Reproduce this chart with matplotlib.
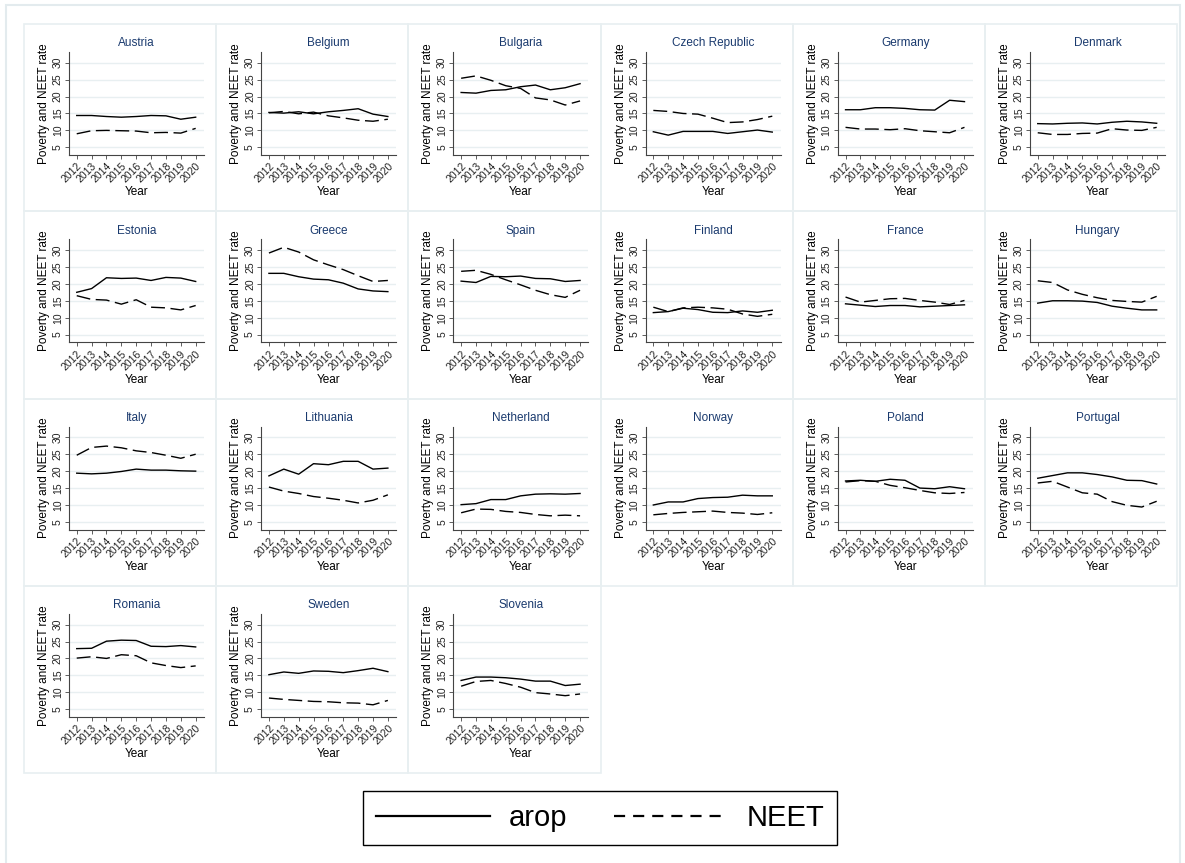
import numpy as np
import matplotlib.pyplot as plt
from matplotlib.patches import Rectangle
from matplotlib.lines import Line2D

plt.rcParams['font.family'] = ['Liberation Sans', 'DejaVu Sans']

years = [2012, 2013, 2014, 2015, 2016, 2017, 2018, 2019, 2020]

countries = ['Austria', 'Belgium', 'Bulgaria', 'Czech Republic', 'Germany', 'Denmark',
             'Estonia', 'Greece', 'Spain', 'Finland', 'France', 'Hungary',
             'Italy', 'Lithuania', 'Netherland', 'Norway', 'Poland', 'Portugal',
             'Romania', 'Sweden', 'Slovenia']

# at-risk-of-poverty rate
arop = [
    [14.4, 14.4, 14.1, 13.9, 14.1, 14.4, 14.3, 13.3, 13.9],
    [15.3, 15.1, 15.5, 14.9, 15.5, 15.9, 16.4, 14.8, 14.1],
    [21.2, 21.0, 21.8, 22.0, 22.9, 23.4, 22.0, 22.6, 23.8],
    [9.6, 8.6, 9.7, 9.7, 9.7, 9.1, 9.6, 10.1, 9.5],
    [16.1, 16.1, 16.7, 16.7, 16.5, 16.1, 16.0, 18.9, 18.5],
    [12.0, 11.9, 12.1, 12.2, 11.9, 12.4, 12.7, 12.5, 12.1],
    [17.5, 18.6, 21.8, 21.6, 21.7, 21.0, 21.9, 21.7, 20.7],
    [23.1, 23.1, 22.1, 21.4, 21.2, 20.2, 18.5, 17.9, 17.7],
    [20.8, 20.4, 22.2, 22.1, 22.3, 21.6, 21.5, 20.7, 21.0],
    [11.5, 11.8, 12.8, 12.4, 11.6, 11.5, 12.0, 11.6, 12.2],
    [14.1, 13.7, 13.3, 13.6, 13.6, 13.2, 13.4, 13.6, 13.8],
    [14.3, 15.0, 15.0, 14.9, 14.5, 13.4, 12.8, 12.3, 12.3],
    [19.4, 19.2, 19.4, 19.9, 20.6, 20.3, 20.3, 20.1, 20.0],
    [18.6, 20.6, 19.1, 22.2, 21.9, 22.9, 22.9, 20.6, 20.9],
    [10.1, 10.4, 11.6, 11.6, 12.7, 13.2, 13.3, 13.2, 13.4],
    [10.0, 10.9, 10.9, 11.9, 12.2, 12.3, 12.9, 12.7, 12.7],
    [17.1, 17.3, 17.0, 17.6, 17.3, 15.0, 14.8, 15.4, 14.8],
    [17.9, 18.7, 19.5, 19.5, 19.0, 18.3, 17.3, 17.2, 16.2],
    [22.9, 23.0, 25.1, 25.4, 25.3, 23.6, 23.5, 23.8, 23.4],
    [15.2, 16.0, 15.6, 16.3, 16.2, 15.8, 16.4, 17.1, 16.1],
    [13.5, 14.5, 14.5, 14.3, 13.9, 13.3, 13.3, 12.0, 12.4],
]

# NEET rate
neet = [
    [9.0, 9.9, 10.0, 9.9, 9.8, 9.3, 9.4, 9.2, 10.6],
    [15.2, 15.6, 14.9, 15.4, 14.3, 13.7, 13.0, 12.7, 13.3],
    [25.4, 26.1, 24.8, 23.2, 22.4, 19.6, 19.0, 17.5, 18.7],
    [15.9, 15.6, 15.0, 14.8, 13.6, 12.3, 12.5, 13.2, 14.2],
    [10.9, 10.4, 10.4, 10.2, 10.5, 9.9, 9.6, 9.3, 10.9],
    [9.3, 8.8, 8.8, 9.1, 9.2, 10.5, 10.1, 10.0, 10.9],
    [16.5, 15.4, 15.2, 14.0, 15.3, 13.1, 12.9, 12.3, 13.6],
    [29.1, 30.8, 29.4, 27.1, 25.6, 24.2, 22.4, 20.7, 21.0],
    [23.7, 24.0, 22.8, 21.2, 19.7, 18.1, 16.8, 16.0, 18.1],
    [13.1, 11.8, 12.9, 13.1, 12.9, 12.5, 11.1, 10.4, 11.0],
    [16.1, 14.6, 15.1, 15.6, 15.7, 15.1, 14.6, 13.9, 15.1],
    [20.9, 20.4, 18.2, 16.9, 15.9, 15.1, 14.8, 14.6, 16.3],
    [24.7, 27.0, 27.4, 26.9, 26.0, 25.5, 24.7, 23.8, 25.0],
    [15.3, 14.1, 13.4, 12.5, 12.0, 11.4, 10.6, 11.4, 13.0],
    [7.7, 8.8, 8.7, 8.1, 7.8, 7.2, 6.8, 7.0, 6.8],
    [7.1, 7.5, 7.8, 8.0, 8.2, 7.8, 7.6, 7.2, 7.7],
    [16.8, 17.2, 17.0, 15.8, 15.1, 14.3, 13.6, 13.4, 13.7],
    [16.5, 17.0, 15.3, 13.6, 13.2, 11.0, 9.9, 9.4, 11.1],
    [20.1, 20.5, 20.0, 21.1, 20.8, 18.7, 17.9, 17.3, 17.8],
    [8.3, 7.9, 7.6, 7.3, 7.2, 6.9, 6.8, 6.3, 7.6],
    [11.8, 13.2, 13.5, 12.6, 11.5, 9.9, 9.5, 9.0, 9.5],
]

W, H = 1185, 863
fig = plt.figure(figsize=(W / 100, H / 100), dpi=100)

def fx(px):
    return px / W

def fy(py):
    return 1 - py / H

grid_col = '#e8eff1'
title_col = '#1a3a6e'
axis_col = '#444444'

# outer frame
fig.patches.append(Rectangle((fx(6), -0.02), fx(1174), fy(5) + 0.02, transform=fig.transFigure,
                             fill=False, edgecolor='#e3ebee', lw=1.5))

pw, ph = 192.2, 187.3
for i, name in enumerate(countries):
    r, c = divmod(i, 6)
    left = 24 + c * pw
    top = 24 + r * ph
    fig.patches.append(Rectangle((fx(left), fy(top + ph)), fx(pw), ph / H,
                                 transform=fig.transFigure, fill=False,
                                 edgecolor=grid_col, lw=1.2))
    ax = fig.add_axes([fx(left + 45), fy(top + 131), fx(135), 103 / H])
    ax.plot(years, arop[i], color='black', lw=1.0)
    ax.plot(years, neet[i], color='black', lw=1.0, linestyle=(0, (10, 4)))
    ax.set_xlim(2011.48, 2020.56)
    ax.set_ylim(2.73, 33.16)
    ax.set_yticks([5, 10, 15, 20, 25, 30])
    ax.set_xticks(years)
    ax.set_xticklabels([str(y) for y in years], rotation=45, ha='right',
                       rotation_mode='anchor', fontsize=7.5)
    ax.set_yticklabels(['5', '10', '15', '20', '25', '30'], rotation=90,
                       va='center', fontsize=7.5)
    ax.grid(axis='y', color=grid_col, lw=1.0)
    ax.set_axisbelow(True)
    for s in ['top', 'right']:
        ax.spines[s].set_visible(False)
    for s in ['left', 'bottom']:
        ax.spines[s].set_color(axis_col)
        ax.spines[s].set_linewidth(0.8)
    ax.tick_params(colors=axis_col, labelcolor='#222222', length=3, width=0.6, pad=1.5)
    ax.set_title(name, color=title_col, fontsize=8.5, pad=4)
    ax.set_xlabel('Year', fontsize=8.5, labelpad=1)
    ax.set_ylabel('Poverty and NEET rate', fontsize=8.5, labelpad=2)

handles = [Line2D([], [], color='black', lw=1.6),
           Line2D([], [], color='black', lw=1.6, linestyle=(0, (5, 3.6)))]
leg = fig.legend(handles, ['arop', 'NEET'], loc='center', ncol=2,
                 bbox_to_anchor=(fx(600), fy(818)), fontsize=21,
                 handlelength=3.9, handletextpad=0.65, columnspacing=1.6,
                 borderpad=0.45, fancybox=False, framealpha=1)
leg.get_frame().set_edgecolor('black')
leg.get_frame().set_linewidth(1.0)

fig.savefig('out.png', dpi=100, facecolor='white')
